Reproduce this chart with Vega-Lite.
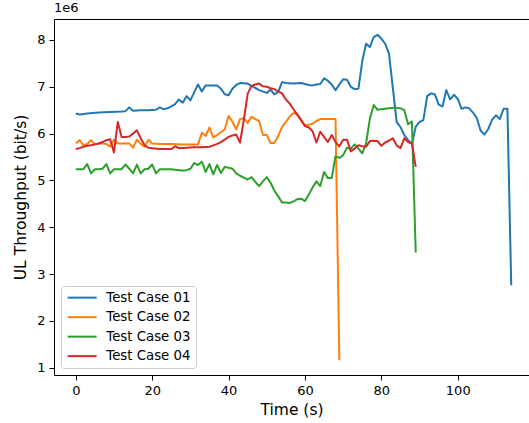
{
"$schema": "https://vega.github.io/schema/vega-lite/v6.json",
"width": 475,
"height": 356,
"autosize": {"type": "none"},
"padding": {"left": 54, "top": 19, "right": 0, "bottom": 48},
"background": "white",
"title": {"text": "1e6", "anchor": "start", "frame": "group", "fontSize": 13, "fontWeight": "normal", "font": "DejaVu Sans", "offset": 4, "color": "black"},
"config": {
  "view": {"stroke": null},
  "axis": {"labelFont": "DejaVu Sans", "labelFontSize": 13, "labelColor": "black", "titleFont": "DejaVu Sans", "titleFontSize": 15.5, "titleFontWeight": "normal", "titleColor": "black", "tickColor": "black", "tickSize": 5, "tickWidth": 1, "domainColor": "black", "domainWidth": 1, "grid": false, "labelPadding": 4}
},
"datasets": {
"tp": [
{"t":0,"v":6.43,"s":"Test Case 01"},{"t":1,"v":6.41,"s":"Test Case 01"},{"t":3,"v":6.43,"s":"Test Case 01"},{"t":6,"v":6.45,"s":"Test Case 01"},{"t":9,"v":6.46,"s":"Test Case 01"},{"t":12,"v":6.47,"s":"Test Case 01"},{"t":13,"v":6.48,"s":"Test Case 01"},{"t":14,"v":6.56,"s":"Test Case 01"},{"t":15,"v":6.49,"s":"Test Case 01"},{"t":17,"v":6.5,"s":"Test Case 01"},{"t":19,"v":6.5,"s":"Test Case 01"},{"t":21,"v":6.51,"s":"Test Case 01"},{"t":22,"v":6.56,"s":"Test Case 01"},{"t":23,"v":6.52,"s":"Test Case 01"},{"t":24,"v":6.54,"s":"Test Case 01"},{"t":25,"v":6.58,"s":"Test Case 01"},{"t":26,"v":6.63,"s":"Test Case 01"},{"t":27,"v":6.73,"s":"Test Case 01"},{"t":28,"v":6.66,"s":"Test Case 01"},{"t":29,"v":6.8,"s":"Test Case 01"},{"t":30,"v":6.71,"s":"Test Case 01"},{"t":31,"v":6.88,"s":"Test Case 01"},{"t":32,"v":7.05,"s":"Test Case 01"},{"t":33,"v":6.9,"s":"Test Case 01"},{"t":34,"v":7.03,"s":"Test Case 01"},{"t":36,"v":7.03,"s":"Test Case 01"},{"t":37,"v":7.03,"s":"Test Case 01"},{"t":38,"v":6.96,"s":"Test Case 01"},{"t":39,"v":6.84,"s":"Test Case 01"},{"t":40,"v":6.82,"s":"Test Case 01"},{"t":41,"v":6.96,"s":"Test Case 01"},{"t":42,"v":7.04,"s":"Test Case 01"},{"t":43,"v":7.08,"s":"Test Case 01"},{"t":45,"v":7.07,"s":"Test Case 01"},{"t":46,"v":7.02,"s":"Test Case 01"},{"t":48,"v":6.93,"s":"Test Case 01"},{"t":50,"v":6.87,"s":"Test Case 01"},{"t":51,"v":6.94,"s":"Test Case 01"},{"t":52,"v":6.84,"s":"Test Case 01"},{"t":53,"v":6.89,"s":"Test Case 01"},{"t":54,"v":7.1,"s":"Test Case 01"},{"t":55,"v":7.08,"s":"Test Case 01"},{"t":57,"v":7.07,"s":"Test Case 01"},{"t":59,"v":7.08,"s":"Test Case 01"},{"t":60,"v":7.06,"s":"Test Case 01"},{"t":61,"v":7.04,"s":"Test Case 01"},{"t":62,"v":7.03,"s":"Test Case 01"},{"t":63,"v":7.05,"s":"Test Case 01"},{"t":64,"v":7.06,"s":"Test Case 01"},{"t":65,"v":7.18,"s":"Test Case 01"},{"t":66,"v":7.13,"s":"Test Case 01"},{"t":67,"v":7.05,"s":"Test Case 01"},{"t":68,"v":6.93,"s":"Test Case 01"},{"t":69,"v":7.05,"s":"Test Case 01"},{"t":70,"v":7.16,"s":"Test Case 01"},{"t":71,"v":7.15,"s":"Test Case 01"},{"t":72,"v":7.0,"s":"Test Case 01"},{"t":73,"v":6.95,"s":"Test Case 01"},{"t":74,"v":6.96,"s":"Test Case 01"},{"t":75,"v":7.55,"s":"Test Case 01"},{"t":76,"v":7.92,"s":"Test Case 01"},{"t":77,"v":7.85,"s":"Test Case 01"},{"t":78,"v":8.06,"s":"Test Case 01"},{"t":79,"v":8.11,"s":"Test Case 01"},{"t":80,"v":8.03,"s":"Test Case 01"},{"t":81,"v":7.92,"s":"Test Case 01"},{"t":82,"v":7.71,"s":"Test Case 01"},{"t":84,"v":6.25,"s":"Test Case 01"},{"t":85,"v":6.14,"s":"Test Case 01"},{"t":86,"v":5.97,"s":"Test Case 01"},{"t":87,"v":5.86,"s":"Test Case 01"},{"t":88,"v":5.78,"s":"Test Case 01"},{"t":89,"v":6.15,"s":"Test Case 01"},{"t":90,"v":6.25,"s":"Test Case 01"},{"t":91,"v":6.29,"s":"Test Case 01"},{"t":92,"v":6.8,"s":"Test Case 01"},{"t":93,"v":6.86,"s":"Test Case 01"},{"t":94,"v":6.84,"s":"Test Case 01"},{"t":95,"v":6.62,"s":"Test Case 01"},{"t":96,"v":6.58,"s":"Test Case 01"},{"t":97,"v":6.93,"s":"Test Case 01"},{"t":98,"v":6.73,"s":"Test Case 01"},{"t":99,"v":6.83,"s":"Test Case 01"},{"t":100,"v":6.74,"s":"Test Case 01"},{"t":101,"v":6.53,"s":"Test Case 01"},{"t":102,"v":6.56,"s":"Test Case 01"},{"t":103,"v":6.54,"s":"Test Case 01"},{"t":104,"v":6.45,"s":"Test Case 01"},{"t":105,"v":6.33,"s":"Test Case 01"},{"t":106,"v":6.06,"s":"Test Case 01"},{"t":107,"v":5.98,"s":"Test Case 01"},{"t":108,"v":6.1,"s":"Test Case 01"},{"t":109,"v":6.3,"s":"Test Case 01"},{"t":110,"v":6.39,"s":"Test Case 01"},{"t":111,"v":6.31,"s":"Test Case 01"},{"t":112,"v":6.53,"s":"Test Case 01"},{"t":113,"v":6.53,"s":"Test Case 01"},{"t":114,"v":2.76,"s":"Test Case 01"},
{"t":0,"v":5.79,"s":"Test Case 02"},{"t":1,"v":5.86,"s":"Test Case 02"},{"t":2,"v":5.75,"s":"Test Case 02"},{"t":3,"v":5.78,"s":"Test Case 02"},{"t":4,"v":5.86,"s":"Test Case 02"},{"t":5,"v":5.77,"s":"Test Case 02"},{"t":6,"v":5.79,"s":"Test Case 02"},{"t":7,"v":5.79,"s":"Test Case 02"},{"t":8,"v":5.78,"s":"Test Case 02"},{"t":9,"v":5.72,"s":"Test Case 02"},{"t":10,"v":5.87,"s":"Test Case 02"},{"t":11,"v":5.79,"s":"Test Case 02"},{"t":12,"v":5.79,"s":"Test Case 02"},{"t":14,"v":5.79,"s":"Test Case 02"},{"t":15,"v":5.7,"s":"Test Case 02"},{"t":16,"v":5.87,"s":"Test Case 02"},{"t":17,"v":5.78,"s":"Test Case 02"},{"t":18,"v":5.72,"s":"Test Case 02"},{"t":19,"v":5.87,"s":"Test Case 02"},{"t":20,"v":5.79,"s":"Test Case 02"},{"t":22,"v":5.78,"s":"Test Case 02"},{"t":25,"v":5.78,"s":"Test Case 02"},{"t":28,"v":5.77,"s":"Test Case 02"},{"t":32,"v":5.77,"s":"Test Case 02"},{"t":33,"v":6.02,"s":"Test Case 02"},{"t":34,"v":5.95,"s":"Test Case 02"},{"t":35,"v":6.13,"s":"Test Case 02"},{"t":36,"v":5.92,"s":"Test Case 02"},{"t":37,"v":5.97,"s":"Test Case 02"},{"t":38,"v":6.03,"s":"Test Case 02"},{"t":39,"v":6.09,"s":"Test Case 02"},{"t":40,"v":6.38,"s":"Test Case 02"},{"t":41,"v":6.26,"s":"Test Case 02"},{"t":42,"v":6.09,"s":"Test Case 02"},{"t":43,"v":6.31,"s":"Test Case 02"},{"t":44,"v":6.33,"s":"Test Case 02"},{"t":45,"v":6.23,"s":"Test Case 02"},{"t":46,"v":6.36,"s":"Test Case 02"},{"t":47,"v":6.31,"s":"Test Case 02"},{"t":48,"v":6.27,"s":"Test Case 02"},{"t":49,"v":5.97,"s":"Test Case 02"},{"t":50,"v":5.97,"s":"Test Case 02"},{"t":51,"v":5.8,"s":"Test Case 02"},{"t":52,"v":5.8,"s":"Test Case 02"},{"t":53,"v":5.95,"s":"Test Case 02"},{"t":54,"v":6.14,"s":"Test Case 02"},{"t":55,"v":6.25,"s":"Test Case 02"},{"t":56,"v":6.36,"s":"Test Case 02"},{"t":57,"v":6.44,"s":"Test Case 02"},{"t":58,"v":6.41,"s":"Test Case 02"},{"t":59,"v":6.3,"s":"Test Case 02"},{"t":60,"v":6.18,"s":"Test Case 02"},{"t":61,"v":6.19,"s":"Test Case 02"},{"t":62,"v":6.21,"s":"Test Case 02"},{"t":63,"v":6.27,"s":"Test Case 02"},{"t":64,"v":6.31,"s":"Test Case 02"},{"t":66,"v":6.31,"s":"Test Case 02"},{"t":68,"v":6.31,"s":"Test Case 02"},{"t":69,"v":1.16,"s":"Test Case 02"},
{"t":0,"v":5.24,"s":"Test Case 03"},{"t":1,"v":5.24,"s":"Test Case 03"},{"t":2,"v":5.24,"s":"Test Case 03"},{"t":3,"v":5.35,"s":"Test Case 03"},{"t":4,"v":5.15,"s":"Test Case 03"},{"t":5,"v":5.24,"s":"Test Case 03"},{"t":6,"v":5.24,"s":"Test Case 03"},{"t":7,"v":5.25,"s":"Test Case 03"},{"t":8,"v":5.35,"s":"Test Case 03"},{"t":9,"v":5.15,"s":"Test Case 03"},{"t":10,"v":5.24,"s":"Test Case 03"},{"t":12,"v":5.24,"s":"Test Case 03"},{"t":13,"v":5.34,"s":"Test Case 03"},{"t":14,"v":5.25,"s":"Test Case 03"},{"t":15,"v":5.15,"s":"Test Case 03"},{"t":16,"v":5.34,"s":"Test Case 03"},{"t":17,"v":5.15,"s":"Test Case 03"},{"t":18,"v":5.24,"s":"Test Case 03"},{"t":19,"v":5.25,"s":"Test Case 03"},{"t":20,"v":5.34,"s":"Test Case 03"},{"t":21,"v":5.15,"s":"Test Case 03"},{"t":22,"v":5.24,"s":"Test Case 03"},{"t":23,"v":5.24,"s":"Test Case 03"},{"t":25,"v":5.24,"s":"Test Case 03"},{"t":26,"v":5.23,"s":"Test Case 03"},{"t":27,"v":5.22,"s":"Test Case 03"},{"t":28,"v":5.21,"s":"Test Case 03"},{"t":29,"v":5.22,"s":"Test Case 03"},{"t":30,"v":5.25,"s":"Test Case 03"},{"t":31,"v":5.37,"s":"Test Case 03"},{"t":32,"v":5.33,"s":"Test Case 03"},{"t":33,"v":5.4,"s":"Test Case 03"},{"t":34,"v":5.18,"s":"Test Case 03"},{"t":35,"v":5.35,"s":"Test Case 03"},{"t":36,"v":5.13,"s":"Test Case 03"},{"t":37,"v":5.33,"s":"Test Case 03"},{"t":38,"v":5.16,"s":"Test Case 03"},{"t":39,"v":5.29,"s":"Test Case 03"},{"t":40,"v":5.27,"s":"Test Case 03"},{"t":41,"v":5.25,"s":"Test Case 03"},{"t":42,"v":5.15,"s":"Test Case 03"},{"t":43,"v":5.1,"s":"Test Case 03"},{"t":44,"v":5.06,"s":"Test Case 03"},{"t":45,"v":5.02,"s":"Test Case 03"},{"t":46,"v":5.07,"s":"Test Case 03"},{"t":47,"v":4.97,"s":"Test Case 03"},{"t":48,"v":4.88,"s":"Test Case 03"},{"t":49,"v":4.98,"s":"Test Case 03"},{"t":50,"v":5.07,"s":"Test Case 03"},{"t":51,"v":4.95,"s":"Test Case 03"},{"t":52,"v":4.78,"s":"Test Case 03"},{"t":53,"v":4.66,"s":"Test Case 03"},{"t":54,"v":4.53,"s":"Test Case 03"},{"t":55,"v":4.53,"s":"Test Case 03"},{"t":56,"v":4.52,"s":"Test Case 03"},{"t":57,"v":4.55,"s":"Test Case 03"},{"t":58,"v":4.6,"s":"Test Case 03"},{"t":59,"v":4.61,"s":"Test Case 03"},{"t":60,"v":4.56,"s":"Test Case 03"},{"t":61,"v":4.7,"s":"Test Case 03"},{"t":62,"v":4.85,"s":"Test Case 03"},{"t":63,"v":4.98,"s":"Test Case 03"},{"t":64,"v":4.88,"s":"Test Case 03"},{"t":65,"v":5.18,"s":"Test Case 03"},{"t":66,"v":5.05,"s":"Test Case 03"},{"t":67,"v":5.05,"s":"Test Case 03"},{"t":68,"v":5.52,"s":"Test Case 03"},{"t":69,"v":5.48,"s":"Test Case 03"},{"t":70,"v":5.54,"s":"Test Case 03"},{"t":71,"v":5.7,"s":"Test Case 03"},{"t":72,"v":5.68,"s":"Test Case 03"},{"t":73,"v":5.77,"s":"Test Case 03"},{"t":74,"v":5.68,"s":"Test Case 03"},{"t":75,"v":5.58,"s":"Test Case 03"},{"t":76,"v":5.79,"s":"Test Case 03"},{"t":77,"v":6.32,"s":"Test Case 03"},{"t":78,"v":6.61,"s":"Test Case 03"},{"t":79,"v":6.51,"s":"Test Case 03"},{"t":80,"v":6.52,"s":"Test Case 03"},{"t":81,"v":6.53,"s":"Test Case 03"},{"t":82,"v":6.54,"s":"Test Case 03"},{"t":83,"v":6.55,"s":"Test Case 03"},{"t":84,"v":6.55,"s":"Test Case 03"},{"t":85,"v":6.54,"s":"Test Case 03"},{"t":86,"v":6.5,"s":"Test Case 03"},{"t":87,"v":6.2,"s":"Test Case 03"},{"t":88,"v":6.26,"s":"Test Case 03"},{"t":89,"v":3.46,"s":"Test Case 03"},
{"t":0,"v":5.67,"s":"Test Case 04"},{"t":1,"v":5.69,"s":"Test Case 04"},{"t":2,"v":5.72,"s":"Test Case 04"},{"t":3,"v":5.74,"s":"Test Case 04"},{"t":4,"v":5.75,"s":"Test Case 04"},{"t":5,"v":5.77,"s":"Test Case 04"},{"t":6,"v":5.79,"s":"Test Case 04"},{"t":7,"v":5.82,"s":"Test Case 04"},{"t":8,"v":5.86,"s":"Test Case 04"},{"t":9,"v":5.88,"s":"Test Case 04"},{"t":10,"v":5.6,"s":"Test Case 04"},{"t":11,"v":6.25,"s":"Test Case 04"},{"t":12,"v":5.93,"s":"Test Case 04"},{"t":13,"v":5.93,"s":"Test Case 04"},{"t":14,"v":5.94,"s":"Test Case 04"},{"t":15,"v":6.0,"s":"Test Case 04"},{"t":16,"v":6.07,"s":"Test Case 04"},{"t":17,"v":5.9,"s":"Test Case 04"},{"t":18,"v":5.75,"s":"Test Case 04"},{"t":19,"v":5.7,"s":"Test Case 04"},{"t":20,"v":5.69,"s":"Test Case 04"},{"t":22,"v":5.67,"s":"Test Case 04"},{"t":25,"v":5.67,"s":"Test Case 04"},{"t":26,"v":5.73,"s":"Test Case 04"},{"t":27,"v":5.69,"s":"Test Case 04"},{"t":29,"v":5.7,"s":"Test Case 04"},{"t":31,"v":5.71,"s":"Test Case 04"},{"t":33,"v":5.71,"s":"Test Case 04"},{"t":35,"v":5.72,"s":"Test Case 04"},{"t":36,"v":5.75,"s":"Test Case 04"},{"t":37,"v":5.78,"s":"Test Case 04"},{"t":38,"v":5.82,"s":"Test Case 04"},{"t":39,"v":5.87,"s":"Test Case 04"},{"t":40,"v":5.93,"s":"Test Case 04"},{"t":41,"v":5.96,"s":"Test Case 04"},{"t":42,"v":5.98,"s":"Test Case 04"},{"t":43,"v":5.81,"s":"Test Case 04"},{"t":44,"v":6.3,"s":"Test Case 04"},{"t":45,"v":6.85,"s":"Test Case 04"},{"t":46,"v":7.02,"s":"Test Case 04"},{"t":47,"v":7.05,"s":"Test Case 04"},{"t":48,"v":7.07,"s":"Test Case 04"},{"t":49,"v":7.01,"s":"Test Case 04"},{"t":50,"v":7.0,"s":"Test Case 04"},{"t":51,"v":6.97,"s":"Test Case 04"},{"t":52,"v":6.95,"s":"Test Case 04"},{"t":53,"v":6.9,"s":"Test Case 04"},{"t":54,"v":6.86,"s":"Test Case 04"},{"t":55,"v":6.73,"s":"Test Case 04"},{"t":56,"v":6.64,"s":"Test Case 04"},{"t":57,"v":6.52,"s":"Test Case 04"},{"t":58,"v":6.4,"s":"Test Case 04"},{"t":59,"v":6.28,"s":"Test Case 04"},{"t":60,"v":6.16,"s":"Test Case 04"},{"t":61,"v":6.13,"s":"Test Case 04"},{"t":62,"v":6.05,"s":"Test Case 04"},{"t":63,"v":5.81,"s":"Test Case 04"},{"t":64,"v":6.04,"s":"Test Case 04"},{"t":65,"v":5.93,"s":"Test Case 04"},{"t":66,"v":5.82,"s":"Test Case 04"},{"t":67,"v":5.97,"s":"Test Case 04"},{"t":68,"v":5.82,"s":"Test Case 04"},{"t":69,"v":5.73,"s":"Test Case 04"},{"t":70,"v":5.87,"s":"Test Case 04"},{"t":71,"v":5.87,"s":"Test Case 04"},{"t":72,"v":5.62,"s":"Test Case 04"},{"t":73,"v":5.68,"s":"Test Case 04"},{"t":74,"v":5.75,"s":"Test Case 04"},{"t":75,"v":5.73,"s":"Test Case 04"},{"t":76,"v":5.72,"s":"Test Case 04"},{"t":77,"v":5.84,"s":"Test Case 04"},{"t":78,"v":5.85,"s":"Test Case 04"},{"t":79,"v":5.84,"s":"Test Case 04"},{"t":80,"v":5.74,"s":"Test Case 04"},{"t":81,"v":5.81,"s":"Test Case 04"},{"t":82,"v":5.85,"s":"Test Case 04"},{"t":83,"v":5.9,"s":"Test Case 04"},{"t":84,"v":5.75,"s":"Test Case 04"},{"t":85,"v":5.69,"s":"Test Case 04"},{"t":86,"v":5.9,"s":"Test Case 04"},{"t":87,"v":5.82,"s":"Test Case 04"},{"t":88,"v":5.79,"s":"Test Case 04"},{"t":89,"v":5.29,"s":"Test Case 04"}
]
},
"data": {"name": "tp"},
"layer": [
  {
    "mark": {"type": "line", "strokeWidth": 2, "strokeJoin": "round"},
    "encoding": {
      "x": {"field": "t", "type": "quantitative", "scale": {"domain": [-5.7, 118.65], "nice": false, "zero": false}, "axis": {"title": "Time (s)", "values": [0, 20, 40, 60, 80, 100], "titlePadding": 5}},
      "y": {"field": "v", "type": "quantitative", "scale": {"domain": [0.845, 8.448], "nice": false, "zero": false}, "axis": {"title": "UL Throughput (bit/s)", "values": [1, 2, 3, 4, 5, 6, 7, 8], "titlePadding": 8}},
      "color": {"field": "s", "type": "nominal", "scale": {"range": ["#1f77b4", "#ff7f0e", "#2ca02c", "#d62728"]},
        "legend": {"title": null, "orient": "bottom-left", "offset": 7, "symbolType": "M-1,0H4.8", "symbolSize": 100, "symbolStrokeWidth": 2, "symbolFillColor": "transparent", "labelFont": "DejaVu Sans", "labelFontSize": 13.3, "labelColor": "black", "labelOffset": 27, "labelLimit": 300, "rowPadding": 5.5, "padding": 5, "fillColor": "white", "strokeColor": "#cccccc", "cornerRadius": 3}}
    }
  },
  {
    "mark": {"type": "line", "strokeOpacity": 0},
    "encoding": {
      "x": {"field": "t", "type": "quantitative", "axis": {"orient": "top", "labels": false, "ticks": false, "title": null, "domain": true}},
      "y": {"field": "v", "type": "quantitative"},
      "detail": {"field": "s"}
    }
  }
],
"resolve": {"axis": {"x": "independent"}}
}
